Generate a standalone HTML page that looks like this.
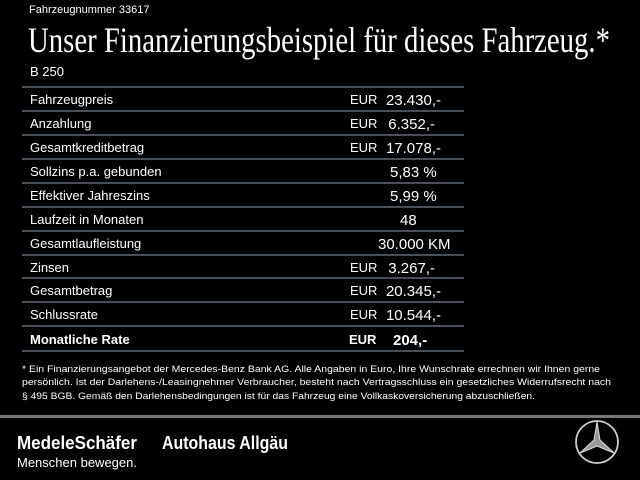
<!DOCTYPE html>
<html><head><meta charset="utf-8"><style>
body{margin:0;background:#000;}
svg{display:block}
text{fill:#fff;font-family:"Liberation Sans",sans-serif}
</style></head><body>
<svg width="640" height="480" viewBox="0 0 640 480">
<rect width="640" height="480" fill="#000"/>
<text x="29" y="13" font-size="11" fill="#ddd">Fahrzeugnummer 33617</text>
<text x="28" y="52" font-size="36" textLength="582" lengthAdjust="spacingAndGlyphs" style="font-family:'Liberation Serif',serif">Unser Finanzierungsbeispiel für dieses Fahrzeug.*</text>
<text x="30" y="76" font-size="13">B 250</text>
<g stroke="#6f8190" stroke-width="1.2">
<line x1="22" y1="87" x2="464" y2="87"/><line x1="22" y1="111" x2="464" y2="111"/>
<line x1="22" y1="135" x2="464" y2="135"/><line x1="22" y1="159" x2="464" y2="159"/>
<line x1="22" y1="183" x2="464" y2="183"/><line x1="22" y1="207" x2="464" y2="207"/>
<line x1="22" y1="231" x2="464" y2="231"/><line x1="22" y1="255" x2="464" y2="255"/>
<line x1="22" y1="278" x2="464" y2="278"/><line x1="22" y1="302" x2="464" y2="302"/>
<line x1="22" y1="326" x2="464" y2="326"/><line x1="22" y1="351" x2="464" y2="351"/>
</g>
<g font-size="13">
<text x="30" y="104">Fahrzeugpreis</text><text x="350" y="104">EUR</text><text x="441" y="105" font-size="15" text-anchor="end">23.430,-</text>
<text x="30" y="128">Anzahlung</text><text x="350" y="128">EUR</text><text x="435" y="129" font-size="15" text-anchor="end">6.352,-</text>
<text x="30" y="152">Gesamtkreditbetrag</text><text x="350" y="152">EUR</text><text x="441" y="153" font-size="15" text-anchor="end">17.078,-</text>
<text x="30" y="176">Sollzins p.a. gebunden</text><text x="390" y="177" font-size="15">5,83 %</text>
<text x="30" y="200">Effektiver Jahreszins</text><text x="390" y="201" font-size="15">5,99 %</text>
<text x="30" y="224">Laufzeit in Monaten</text><text x="400" y="225" font-size="15">48</text>
<text x="30" y="248">Gesamtlaufleistung</text><text x="378" y="249" font-size="15">30.000 KM</text>
<text x="30" y="272">Zinsen</text><text x="350" y="272">EUR</text><text x="435" y="273" font-size="15" text-anchor="end">3.267,-</text>
<text x="30" y="295">Gesamtbetrag</text><text x="350" y="295">EUR</text><text x="441" y="296" font-size="15" text-anchor="end">20.345,-</text>
<text x="30" y="319">Schlussrate</text><text x="350" y="319">EUR</text><text x="441" y="320" font-size="15" text-anchor="end">10.544,-</text>
<text x="30" y="344" font-weight="bold">Monatliche Rate</text><text x="349" y="344" font-weight="bold">EUR</text><text x="393" y="345" font-size="15" font-weight="bold">204,-</text>
</g>
<g font-size="9.5" fill="#eee">
<text x="22" y="372" textLength="578" lengthAdjust="spacingAndGlyphs">* Ein Finanzierungsangebot der Mercedes-Benz Bank AG. Alle Angaben in Euro, Ihre Wunschrate errechnen wir Ihnen gerne</text>
<text x="22" y="385" textLength="589" lengthAdjust="spacingAndGlyphs">persönlich. Ist der Darlehens-/Leasingnehmer Verbraucher, besteht nach Vertragsschluss ein gesetzliches Widerrufsrecht nach</text>
<text x="22" y="399" textLength="513" lengthAdjust="spacingAndGlyphs">§ 495 BGB. Gemäß den Darlehensbedingungen ist für das Fahrzeug eine Vollkaskoversicherung abzuschließen.</text>
</g>
<rect x="0" y="415" width="640" height="3" fill="#777"/>
<text x="17" y="449" font-size="18" font-weight="bold" textLength="120" lengthAdjust="spacingAndGlyphs">MedeleSchäfer</text>
<text x="162" y="449" font-size="18" font-weight="bold" textLength="126" lengthAdjust="spacingAndGlyphs">Autohaus Allgäu</text>
<text x="17" y="467" font-size="13" fill="#ddd">Menschen bewegen.</text>
<g transform="translate(597,442)" stroke="#ccc" fill="none" stroke-width="1.8">
<circle r="21"/>
<path d="M0,-20 L3,-2 L17,11 L0,4 L-17,11 L-3,-2 Z" fill="#999" stroke="#ddd" stroke-width="1"/>
</g>
</svg>
</body></html>
